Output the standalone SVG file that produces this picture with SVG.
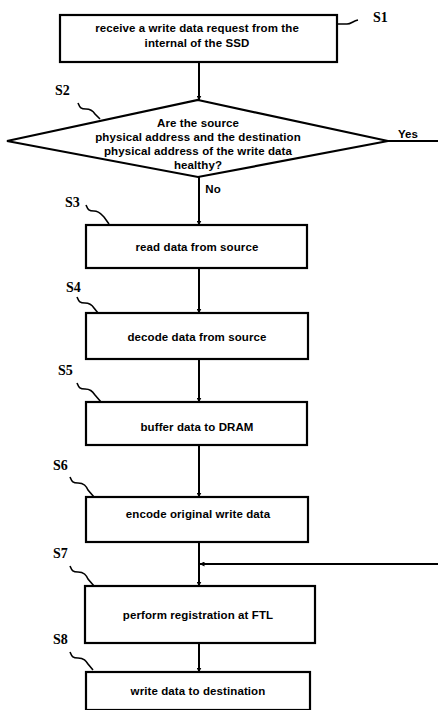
<svg xmlns="http://www.w3.org/2000/svg" width="438" height="710" viewBox="0 0 438 710">
<defs>
<marker id="ah" viewBox="0 0 10 10" refX="9" refY="5" markerWidth="5" markerHeight="5" orient="auto-start-reverse" markerUnits="userSpaceOnUse">
<path d="M0,0 L10,5 L0,10 Z" fill="#000"/>
</marker>
</defs>
<style>
.box{fill:#fff;stroke:#000;stroke-width:2.2}
.t{font-family:"Liberation Sans",Arial,sans-serif;font-weight:bold;font-size:11.5px;fill:#000;text-anchor:middle;letter-spacing:0.1px}
.lbl{font-family:"Liberation Serif","Times New Roman",serif;font-weight:bold;font-size:14px;fill:#000}
.ln{fill:none;stroke:#000;stroke-width:2}
.sq{fill:none;stroke:#000;stroke-width:1.6}
</style>
<rect width="438" height="710" fill="#fff"/>
<g id="connectors">
<line class="ln" x1="199" y1="62" x2="199" y2="100" marker-end="url(#ah)"/>
<line class="ln" x1="199" y1="177" x2="199" y2="225" marker-end="url(#ah)"/>
<line class="ln" x1="199" y1="268" x2="199" y2="313" marker-end="url(#ah)"/>
<line class="ln" x1="199" y1="359" x2="199" y2="402" marker-end="url(#ah)"/>
<line class="ln" x1="199" y1="445" x2="199" y2="497" marker-end="url(#ah)"/>
<line class="ln" x1="199" y1="542" x2="199" y2="586" marker-end="url(#ah)"/>
<line class="ln" x1="199" y1="643" x2="199" y2="672" marker-end="url(#ah)"/>
<line class="ln" x1="388" y1="141" x2="438" y2="141"/>
<line class="ln" x1="438" y1="564" x2="200" y2="564" marker-end="url(#ah)"/>
<text class="t" x="408" y="138">Yes</text>
<text class="t" x="213" y="193">No</text>
</g>
<g id="S1">
<rect class="box" x="60" y="15" width="277" height="47"/>
<text class="t" x="197" y="32">receive a write data request from the</text>
<text class="t" x="197" y="47">internal of the SSD</text>
<path class="sq" d="M338,24 h9 c4,0 6,-3 11,-4"/>
<text class="lbl" x="373" y="22">S1</text>
</g>
<g id="S2">
<polygon class="box" points="198,100 388,141 198,177 7,141"/>
<text class="t" x="198" y="127">Are the source</text>
<text class="t" x="198" y="141">physical address and the destination</text>
<text class="t" x="198" y="155">physical address of the write data</text>
<text class="t" x="198" y="169">healthy?</text>
<path class="sq" d="M78,103 c2,5 3,6 8,6 c5,0 7,2 9,5 l5,5"/>
<text class="lbl" x="55" y="95">S2</text>
</g>
<g id="S3">
<rect class="box" x="86" y="225" width="221" height="43"/>
<text class="t" x="197" y="251">read data from source</text>
<path class="sq" d="M86,205 c2,5 3,6 8,6 c5,0 7,3 10,6 l5,7"/>
<text class="lbl" x="65" y="207">S3</text>
</g>
<g id="S4">
<rect class="box" x="86" y="313" width="222" height="46"/>
<text class="t" x="197" y="341">decode data from source</text>
<path class="sq" d="M77,297 c2,5 3,6 8,6 c5,0 7,2 9,5 l4,5"/>
<text class="lbl" x="66" y="292">S4</text>
</g>
<g id="S5">
<rect class="box" x="86" y="402" width="221" height="43"/>
<text class="t" x="197" y="431">buffer data to DRAM</text>
<path class="sq" d="M77,383 c2,5 3,6 8,6 c5,0 7,2 10,6 l6,7"/>
<text class="lbl" x="58" y="375">S5</text>
</g>
<g id="S6">
<rect class="box" x="86" y="497" width="222" height="45"/>
<text class="t" x="198" y="518">encode original write data</text>
<path class="sq" d="M70,477 c2,5 3,6 8,6 c6,0 8,3 10,7 l6,7"/>
<text class="lbl" x="53" y="470">S6</text>
</g>
<g id="S7">
<rect class="box" x="85" y="586" width="230" height="57"/>
<text class="t" x="198" y="619">perform registration at FTL</text>
<path class="sq" d="M70,566 c2,5 3,6 8,6 c6,0 8,3 10,7 l6,7"/>
<text class="lbl" x="53" y="558">S7</text>
</g>
<g id="S8">
<rect class="box" x="86" y="672" width="224" height="38"/>
<text class="t" x="198" y="695">write data to destination</text>
<path class="sq" d="M70,652 c2,5 3,6 8,6 c6,0 8,3 10,6 l5,6"/>
<text class="lbl" x="53" y="644">S8</text>
</g>
</svg>
